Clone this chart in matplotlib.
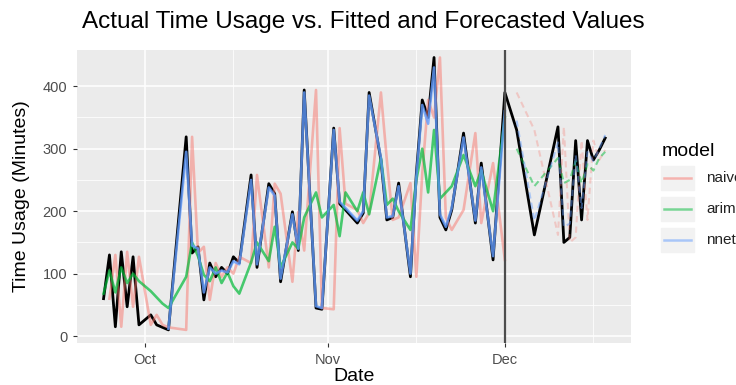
import numpy as np
import pandas as pd
import matplotlib
matplotlib.use("Agg")
import matplotlib.pyplot as plt
import matplotlib.dates as mdates
from matplotlib.lines import Line2D

plt.rcParams['font.family'] = ['Liberation Sans', 'DejaVu Sans']

# ---- data -------------------------------------------------------------
start = pd.Timestamp("2023-10-01")

# training period (days relative to Oct 1)
train_day = [-7, -6, -5, -4, -3, -2, -1, 1, 2, 3, 4, 7, 8, 9, 10, 11, 12, 13, 14, 15,
             16, 18, 19, 21, 22, 23, 25, 26, 27, 29, 30, 32, 33, 34, 36, 37, 38, 40,
             41, 42, 43, 45, 46, 47, 48, 49, 50, 51, 52, 54, 56, 57, 59, 61]
train_actual = [60, 130, 15, 135, 47, 127, 18, 34, 18, 14, 10, 319, 133, 143, 58, 117,
                95, 110, 100, 127, 117, 258, 110, 244, 228, 87, 199, 137, 394, 45, 43,
                333, 212, 202, 181, 197, 390, 282, 186, 190, 245, 95, 260, 378, 350,
                446, 190, 170, 202, 325, 181, 277, 122, 390]
naive_fit = [np.nan, 60, 130, 15, 135, 47, 127, 18, 34, 18, 14, 10, 319, 133, 143, 58,
             117, 95, 110, 100, 127, 117, 258, 110, 244, 228, 87, 199, 137, 394, 45,
             43, 333, 212, 202, 181, 197, 390, 282, 186, 190, 245, 95, 260, 378, 350,
             446, 190, 170, 202, 325, 181, 277, 122]
arima_fit = [68, 105, 70, 110, 85, 100, 88, 72, 62, 52, 45, 95, 150, 128, 98, 88, 110,
             85, 102, 80, 68, 118, 150, 120, 175, 110, 150, 140, 190, 230, 190, 210,
             160, 230, 200, 230, 195, 285, 210, 220, 200, 170, 250, 300, 230, 330, 220,
             230, 240, 290, 240, 265, 200, 350]
nnet_fit = [np.nan, np.nan, np.nan, np.nan, np.nan, np.nan, np.nan, np.nan, np.nan,
            np.nan, 12, 295, 145, 140, 70, 110, 100, 105, 102, 120, 115, 250, 115, 238,
            225, 92, 195, 140, 390, 48, 45, 330, 215, 205, 185, 200, 385, 285, 190,
            192, 240, 100, 255, 370, 340, 430, 195, 175, 205, 318, 185, 270, 128, 360]

# test period
test_day = [63, 66, 70, 71, 72, 73, 74, 75, 76, 77, 78]
test_actual = [330, 162, 335, 150, 158, 313, 186, 313, 282, 298, 317]
naive_fc = [390, 330, 162, 335, 150, 158, 313, 186, 313, 282, 298]
arima_fc = [300, 240, 285, 245, 250, 280, 245, 275, 265, 285, 295]
nnet_fc = [345, 185, 310, 175, 180, 290, 205, 295, 280, 300, 322]

models = ["naive", "arima", "nnet"]
model_colors = {"naive": "#F8766D", "arima": "#00BA38", "nnet": "#619CFF"}
fit_alpha = {"naive": 0.5, "arima": 0.7, "nnet": 0.8}
fc_alpha = {"naive": 0.3, "arima": 0.5, "nnet": 0.45}
forecast_start = "2023-12-01"


def to_dates(days):
    return start + pd.to_timedelta(days, unit="D")


train_dates = to_dates(train_day)
test_dates = to_dates(test_day)
all_dates = train_dates.append(test_dates)
all_actual = train_actual + test_actual

fits = {"naive": naive_fit, "arima": arima_fit, "nnet": nnet_fit}
fcs = {"naive": naive_fc, "arima": arima_fc, "nnet": nnet_fc}

# ---- figure -----------------------------------------------------------
fig = plt.figure(figsize=(7.36, 3.85), dpi=100)
ax = fig.add_axes([77 / 736, 1 - 343 / 385, (631 - 77) / 736, (343 - 50) / 385])
ax.set_facecolor("#EBEBEB")

ax.plot(all_dates, all_actual, color="black", lw=2.0, zorder=3, solid_joinstyle="round")
for m in models:
    ax.plot(train_dates, fits[m], color=model_colors[m], lw=1.9, alpha=fit_alpha[m],
            zorder=4, solid_joinstyle="round")
    ax.plot(test_dates, fcs[m], color=model_colors[m], lw=1.5, alpha=fc_alpha[m],
            zorder=4, linestyle=(0, (3, 2)))

ax.axvline(pd.Timestamp(forecast_start), color="#4D4D4D", lw=1.6, zorder=5)

# axes scales
ax.set_yticks([0, 100, 200, 300, 400])
ax.set_yticks([50, 150, 250, 350], minor=True)
major_x = pd.to_datetime(["2023-10-01", "2023-11-01", "2023-12-01"])
minor_x = pd.to_datetime(["2023-09-16", "2023-10-16", "2023-11-16", "2023-12-16"])
ax.set_xticks(major_x)
ax.set_xticks(minor_x, minor=True)
ax.xaxis.set_major_formatter(mdates.DateFormatter("%b"))
ax.set_ylim(-11, 458)
ax.set_xlim(pd.Timestamp("2023-09-19 12:00"), pd.Timestamp("2023-12-22 09:00"))

ax.grid(which="major", color="white", lw=1.1)
ax.grid(which="minor", color="white", lw=0.55)
ax.set_axisbelow(True)
for s in ax.spines.values():
    s.set_visible(False)
ax.tick_params(which="major", length=3, color="#333333", labelsize=10.5,
               labelcolor="#4D4D4D", pad=4)
ax.tick_params(which="minor", length=0)

ax.set_xlabel("Date", fontsize=14, labelpad=1)
ax.set_ylabel("Time Usage (Minutes)", fontsize=14, labelpad=9)
fig.text(363 / 736, 1 - 22 / 385, "Actual Time Usage vs. Fitted and Forecasted Values",
         fontsize=17.5, ha="center", va="center")

# legend
fig.text(662 / 736, 1 - 151 / 385, "model", fontsize=14, ha="left", va="center")
for i, m in enumerate(models):
    yk = 1 - (178 + 31 * i) / 385
    fig.patches.append(plt.Rectangle((661 / 736, yk - 12 / 385), 33 / 736, 24 / 385,
                                     transform=fig.transFigure, color="#F2F2F2",
                                     zorder=1))
    fig.lines.append(Line2D([664 / 736, 691 / 736], [yk, yk], transform=fig.transFigure,
                            color=model_colors[m], lw=1.8, alpha=0.5, zorder=2))
    fig.text(706 / 736, yk, m, fontsize=11, ha="left", va="center", color="#222222")

fig.savefig("out.png", dpi=100)
